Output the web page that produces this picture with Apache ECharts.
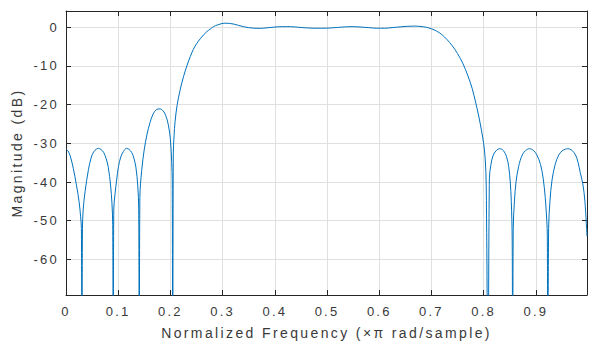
<!DOCTYPE html>
<html>
<head>
<meta charset="utf-8">
<script src="https://cdn.jsdelivr.net/npm/echarts@6/dist/echarts.min.js"></script>
<style>
html,body{margin:0;padding:0;background:#fff;}
#chart{width:597px;height:358px;}
#chart text{letter-spacing:0.17em;}
</style>
</head>
<body>
<div id="chart"></div>
<script>
// Normalized frequency (x pi rad/sample)
const freq = [
0.000,0.004,0.008,0.014,0.020,0.025,0.028,0.0295,0.0305,0.0315,0.033,0.0365,0.043,0.048,0.053,0.058,0.062,0.067,0.072,0.077,0.081,0.0855,0.088,0.0895,0.0905,0.0915,0.094,0.097,0.1005,0.105,0.110,0.116,0.121,0.126,0.130,0.134,0.1375,0.1393,0.1403,0.1415,0.145,0.150,0.155,0.161,0.167,0.173,0.180,0.186,0.191,0.196,0.200,0.2025,0.2035,0.2045,0.2055,0.207,0.209,0.213,0.219,0.225,0.232,0.238,0.244,0.250,0.257,0.264,0.270,0.277,0.283,0.290,0.297,0.305,0.313,0.322,0.330,0.340,0.350,0.360,0.372,0.385,0.400,0.415,0.430,0.445,0.460,0.475,0.490,0.505,0.520,0.535,0.550,0.565,0.580,0.595,0.610,0.625,0.640,0.655,0.668,0.680,0.690,0.700,0.710,0.720,0.730,0.740,0.750,0.760,0.770,0.778,0.785,0.791,0.796,0.800,0.803,0.805,0.8085,0.811,0.814,0.818,0.824,0.831,0.838,0.844,0.848,0.851,0.853,0.8547,0.8557,0.8567,0.859,0.862,0.867,0.874,0.881,0.888,0.895,0.902,0.909,0.914,0.918,0.921,0.922,0.923,0.9245,0.927,0.931,0.937,0.944,0.952,0.961,0.969,0.976,0.981,0.985,0.990,0.994,0.998
];
// Magnitude (dB)
const magnitude = [
-31.5,-32.0,-33.2,-36.5,-40.8,-45.0,-49.0,-52.0,-95,-52,-47,-42.5,-36.8,-33.8,-32.2,-31.5,-31.3,-31.6,-32.3,-34.0,-36.2,-41,-45.5,-51,-95,-47,-43,-39.5,-36,-33.5,-32.1,-31.3,-31.6,-32.4,-33.8,-36.3,-41,-47,-95,-44,-37,-31.5,-27.8,-24.6,-22.4,-21.3,-21.1,-21.6,-22.8,-25.2,-29,-35,-40,-95,-33,-28,-24.3,-20,-16,-12.8,-9.8,-7.6,-5.7,-4.3,-3.0,-1.9,-1.1,-0.4,0.2,0.6,0.9,1.05,1.0,0.8,0.5,0.15,-0.1,-0.25,-0.28,-0.15,0.05,0.15,0.15,0.0,-0.15,-0.25,-0.25,-0.2,-0.05,0.1,0.15,0.05,-0.1,-0.25,-0.25,-0.1,0.1,0.25,0.3,0.2,0.0,-0.4,-1.0,-1.9,-3.2,-4.8,-6.8,-9.3,-12.6,-15.8,-19.6,-23.2,-26.8,-30.0,-34,-41,-95,-39,-35.5,-33.2,-31.9,-31.4,-31.9,-33.5,-36,-40,-45,-55,-95,-52,-45,-40,-36,-33,-31.8,-31.4,-31.8,-33,-35.5,-39,-44,-50,-54,-95,-52,-45,-39.5,-35.5,-33,-31.8,-31.4,-31.8,-33,-35,-37.5,-40.5,-45,-54
];
const xTicks = [0,0.1,0.2,0.3,0.4,0.5,0.6,0.7,0.8,0.9];
const yTicks = [-60,-50,-40,-30,-20,-10,0];

const data = freq.map((f,i)=>[f, magnitude[i]]);
const font = 'Liberation Sans, Arial, Helvetica, sans-serif';
const axisColor = '#262626';
const textColor = '#3a3a3a';

const chart = echarts.init(document.getElementById('chart'), null, {renderer:'svg'});
chart.setOption({
  animation:false,
  backgroundColor:'#ffffff',
  grid:{left:66,right:10,top:11,bottom:63,containLabel:false},
  xAxis:[{
    type:'value',min:0,max:0.998,interval:0.1,
    name:'Normalized Frequency (×π rad/sample)',
    nameLocation:'middle',nameGap:31,
    nameTextStyle:{fontFamily:font,fontSize:14,color:textColor},
    axisLine:{show:true,onZero:false,lineStyle:{color:axisColor,width:1}},
    axisTick:{show:true,inside:true,length:5,customValues:xTicks,lineStyle:{color:axisColor}},
    axisLabel:{show:true,margin:10,fontFamily:font,fontSize:13,color:textColor,customValues:xTicks,
      formatter:v=>String(Math.round(v*10)/10)},
    splitLine:{show:true,lineStyle:{color:'#e0e0e0',width:1}}
  },{
    type:'value',position:'top',min:0,max:0.998,interval:0.1,
    axisLine:{show:true,onZero:false,lineStyle:{color:axisColor,width:1}},
    axisTick:{show:true,inside:true,length:5,customValues:xTicks,lineStyle:{color:axisColor}},
    axisLabel:{show:false},splitLine:{show:false}
  }],
  yAxis:[{
    type:'value',min:-69.2,max:4.2,splitNumber:7,
    name:'Magnitude (dB)',nameLocation:'middle',nameGap:42,nameRotate:90,
    nameTextStyle:{fontFamily:font,fontSize:14,color:textColor},
    axisLine:{show:true,onZero:false,lineStyle:{color:axisColor,width:1}},
    axisTick:{show:true,inside:true,length:5,customValues:yTicks,lineStyle:{color:axisColor}},
    axisLabel:{show:true,margin:7,fontFamily:font,fontSize:13,color:textColor,customValues:yTicks},
    splitLine:{show:true,lineStyle:{color:'#e0e0e0',width:1}}
  },{
    type:'value',position:'right',min:-69.2,max:4.2,
    axisLine:{show:true,onZero:false,lineStyle:{color:axisColor,width:1}},
    axisTick:{show:true,inside:true,length:5,customValues:yTicks,lineStyle:{color:axisColor}},
    axisLabel:{show:false},splitLine:{show:false}
  }],
  series:[{
    type:'line',xAxisIndex:0,yAxisIndex:0,data:data,
    showSymbol:false,smooth:0.35,clip:true,
    lineStyle:{color:'#0072BD',width:1}
  }]
});
</script>
</body>
</html>
